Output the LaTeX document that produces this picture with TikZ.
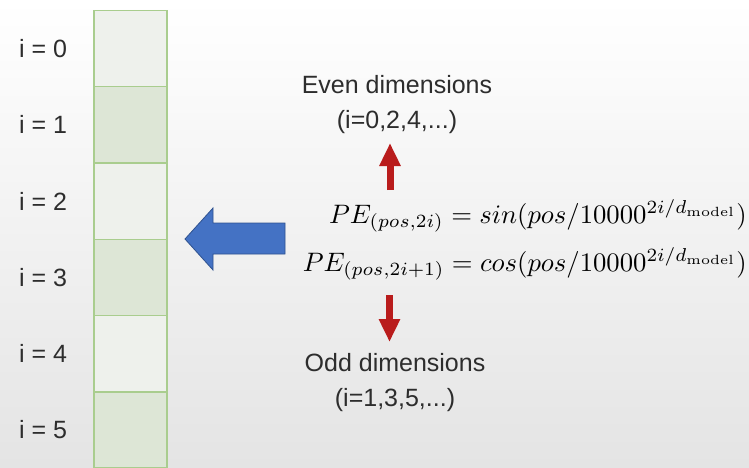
\documentclass[tikz,border=0pt]{standalone}
\usepackage{fontspec}
\usepackage{amsmath}
\usepackage{graphicx}
\usetikzlibrary{arrows.meta}
\newfontfamily\labelfont{Liberation Sans}
\definecolor{bgbottom}{RGB}{228,228,228}
\definecolor{celllight}{RGB}{238,241,236}
\definecolor{cellgreen}{RGB}{221,230,214}
\definecolor{cellborder}{RGB}{169,205,142}
\definecolor{arrowblue}{RGB}{68,114,196}
\definecolor{arrowblueedge}{RGB}{47,82,143}
\definecolor{arrowred}{RGB}{185,28,28}
\definecolor{txt}{RGB}{45,45,45}
\newsavebox{\eqboxA}
\newsavebox{\eqboxB}
\tikzset{
  cell/.style={draw=cellborder, line width=1.5pt, minimum width=73pt, minimum height=76.3pt, inner sep=0pt},
  lbl/.style={font=\labelfont\fontsize{25}{30}\selectfont, text=txt, inner sep=0pt},
  dimtext/.style={font=\labelfont\fontsize{25}{35}\selectfont, text=txt, align=center, inner sep=0pt},
  eqn/.style={inner sep=0pt, anchor=base east, text=black!85},
  redarrow/.style={draw=arrowred, line width=7pt, -{Triangle[width=20pt,length=23pt]}, arrowred}
}
\begin{document}
\sbox{\eqboxA}{$PE_{(pos,2i)} = sin(pos/10000^{2i/d_{\mathrm{model}}})$}%
\sbox{\eqboxB}{$PE_{(pos,2i+1)} = cos(pos/10000^{2i/d_{\mathrm{model}}})$}%
\begin{tikzpicture}[x=1pt,y=-1pt]
\pgfmathsetmacro{\eqscale}{444/\wd\eqboxB}
\useasboundingbox (0,0) rectangle (749,467);
\shade[top color=white, bottom color=bgbottom] (0,0) rectangle (749,467);
% column of cells
\foreach \i in {0,...,5}{
  \pgfmathtruncatemacro{\odd}{mod(\i,2)}
  \ifnum\odd=0
    \node[cell, fill=celllight] (c\i) at (130.5, 48.5+76.3*\i) {};
  \else
    \node[cell, fill=cellgreen] (c\i) at (130.5, 48.5+76.3*\i) {};
  \fi
  \node[lbl] (l\i) at (43, 48.5+76.3*\i) {i = \i};
}
% blue arrow
\draw[fill=arrowblue, draw=arrowblueedge, line width=0.8pt, line join=miter]
  (185,239) -- (213,208) -- (213,223) -- (285,223) -- (285,254) -- (213,254) -- (213,270) -- cycle;
% equations
\node[eqn] (eq1) at (747,223) {\scalebox{\eqscale}{\usebox{\eqboxA}}};
\node[eqn] (eq2) at (747,271) {\scalebox{\eqscale}{\usebox{\eqboxB}}};
% texts
\node[dimtext] (even) at (397,105) {Even dimensions\\(i=0,2,4,...)};
\node[dimtext] (odd) at (395,383) {Odd dimensions\\(i=1,3,5,...)};
% red arrows
\coordinate (upS) at (390,190);
\coordinate (upE) at (390,143);
\coordinate (dnS) at (389.5,295);
\coordinate (dnE) at (389.5,342);
\draw[redarrow] (upS) -- (upE);
\draw[redarrow] (dnS) -- (dnE);
\end{tikzpicture}
\end{document}
